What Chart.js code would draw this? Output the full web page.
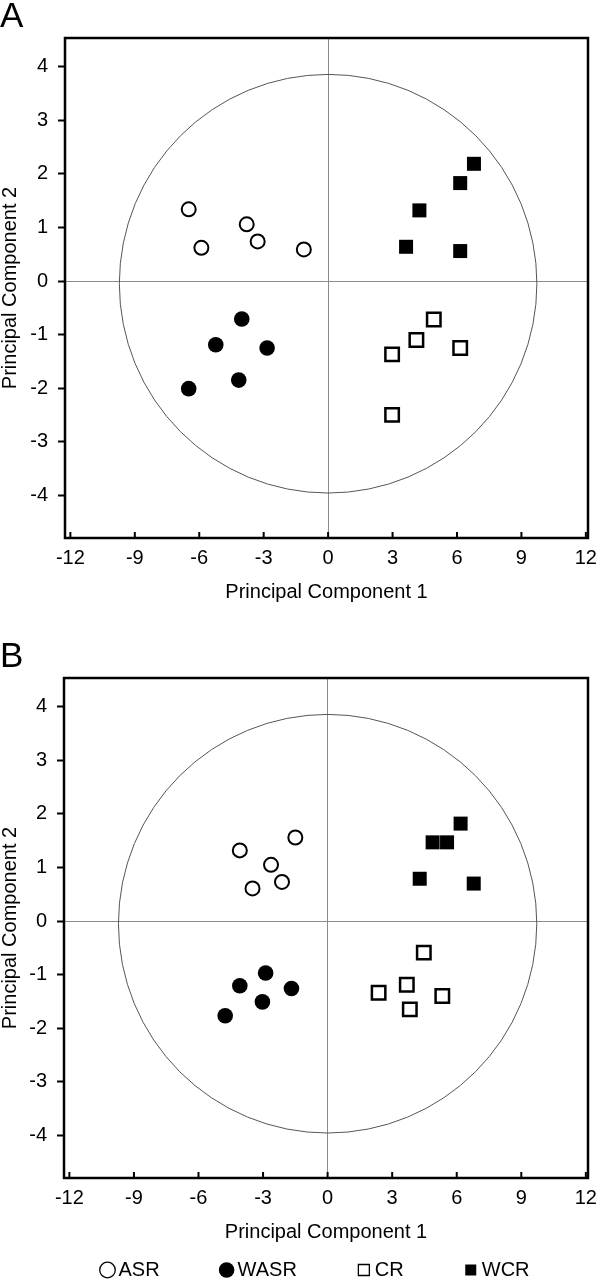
<!DOCTYPE html>
<html><head><meta charset="utf-8">
<script src="https://cdn.jsdelivr.net/npm/chart.js@4/dist/chart.umd.min.js"></script>
<style>
html,body{margin:0;padding:0;background:#fff;overflow:hidden;width:600px;height:1284px;}
canvas{position:absolute;left:0;}
#cA{top:0;} #cB{top:640px;}
</style></head><body>
<canvas id="cA" width="600" height="604"></canvas>
<canvas id="cB" width="600" height="700"></canvas>
<script>
// ---------- data ----------
const SERIES_NAMES = ['ASR', 'WASR', 'CR', 'WCR'];
const PANEL_LABELS = ['A', 'B'];
const X_TICKS = [-12, -9, -6, -3, 0, 3, 6, 9, 12];
const Y_TICKS = [-4, -3, -2, -1, 0, 1, 2, 3, 4];
const X_TITLE = 'Principal Component 1';
const Y_TITLE = 'Principal Component 2';

// Panel A
const A_ASR_X  = [-6.49, -5.90, -3.79, -3.28, -1.13];
const A_ASR_Y  = [ 1.34,  0.62,  1.06,  0.74,  0.59];
const A_WASR_X = [-4.02, -5.23, -2.84, -4.16, -6.49];
const A_WASR_Y = [-0.71, -1.19, -1.25, -1.85, -2.01];
const A_CR_X   = [ 4.92,  4.11,  2.98,  6.15,  2.98];
const A_CR_Y   = [-0.72, -1.10, -1.37, -1.25, -2.50];
const A_WCR_X  = [ 6.79,  6.15,  4.25,  3.63,  6.15];
const A_WCR_Y  = [ 2.19,  1.83,  1.32,  0.64,  0.56];

// Panel B
const B_ASR_X  = [-4.08, -1.50, -2.63, -2.12, -3.49];
const B_ASR_Y  = [ 1.32,  1.56,  1.05,  0.73,  0.61];
const B_WASR_X = [-2.88, -4.08, -1.68, -3.03, -4.76];
const B_WASR_Y = [-0.97, -1.21, -1.26, -1.51, -1.77];
const B_CR_X   = [ 4.47,  3.68,  2.37,  5.33,  3.82];
const B_CR_Y   = [-0.59, -1.19, -1.34, -1.40, -1.65];
const B_WCR_X  = [ 6.18,  4.88,  5.55,  4.28,  6.79];
const B_WCR_Y  = [ 1.82,  1.47,  1.47,  0.79,  0.70];

// reference ellipse (in data units)
const CIRCLE_CX = 0, CIRCLE_CY = -0.05, CIRCLE_RX = 9.72, CIRCLE_RY = 3.91;

// ---------- styling / layout ----------
const X_MIN = -12.25, X_MAX = 12.1, Y_MIN = -4.8, Y_MAX = 4.54;
const FONT = "'Liberation Sans', Arial, Helvetica, sans-serif";
const TICK_FS = 20, TITLE_FS = 20, PANEL_FS = 35;
const ZERO_COLOR = '#8c8c8c', CIRCLE_COLOR = '#555555';
const X_AXIS_H = 66;
const LEGEND_PAD = 66, LEGEND_DX = 23, LEGEND_DY = -50;

const pts = (xs, ys) => xs.map((v, i) => ({x: v, y: ys[i]}));

const STYLES = {
  ASR:  {pointStyle: 'circle', pointRadius: 7,   backgroundColor: '#ffffff', borderColor: '#000000', borderWidth: 2},
  WASR: {pointStyle: 'circle', pointRadius: 7.8, backgroundColor: '#000000', borderColor: '#000000', borderWidth: 0},
  CR:   {pointStyle: 'rect',   pointRadius: 9.5, backgroundColor: '#ffffff', borderColor: '#000000', borderWidth: 2.5},
  WCR:  {pointStyle: 'rect',   pointRadius: 9.9, backgroundColor: '#000000', borderColor: '#000000', borderWidth: 0}
};

function makeDatasets(series) {
  return SERIES_NAMES.map((name, i) => Object.assign({
    label: name,
    data: series[i],
    pointHoverRadius: STYLES[name].pointRadius
  }, STYLES[name]));
}

const pcaDecor = {
  id: 'pcaDecor',
  beforeDatasetsDraw(chart) {
    const {ctx, scales: {x, y}} = chart;
    const cx = x.getPixelForValue(CIRCLE_CX), cy = y.getPixelForValue(CIRCLE_CY);
    const rx = x.getPixelForValue(CIRCLE_CX + CIRCLE_RX) - cx;
    const ry = cy - y.getPixelForValue(CIRCLE_CY + CIRCLE_RY);
    ctx.save();
    ctx.beginPath();
    ctx.ellipse(cx, cy, rx, ry, 0, 0, Math.PI * 2);
    ctx.strokeStyle = CIRCLE_COLOR;
    ctx.lineWidth = 1;
    ctx.stroke();
    ctx.restore();
  },
  afterDraw(chart) {
    const {ctx, chartArea: a, scales: {x}} = chart;
    ctx.save();
    ctx.strokeStyle = '#000';
    // inward tick marks on bottom axis
    ctx.lineWidth = 2;
    x.ticks.forEach(t => {
      const px = x.getPixelForValue(t.value);
      ctx.beginPath();
      ctx.moveTo(px, a.bottom);
      ctx.lineTo(px, a.bottom - 6);
      ctx.stroke();
    });
    // frame
    ctx.lineWidth = 2.5;
    ctx.strokeRect(a.left, a.top, a.right - a.left, a.bottom - a.top);
    ctx.restore();
  }
};

const legendShift = {
  id: 'legendShift',
  afterUpdate(chart) {
    const lg = chart.legend;
    if (!lg || !chart.options.plugins.legend.display) return;
    lg.left += LEGEND_DX; lg.right += LEGEND_DX;
    lg.top += LEGEND_DY; lg.bottom += LEGEND_DY;
  }
};

function makeChart(id, panelLabel, series, showLegend) {
  return new Chart(document.getElementById(id), {
    type: 'scatter',
    data: {datasets: makeDatasets(series)},
    plugins: [pcaDecor, legendShift],
    options: {
      responsive: false,
      animation: false,
      events: [],
      layout: {padding: {top: 0, left: 0, right: 10, bottom: 0}},
      plugins: {
        tooltip: {enabled: false},
        title: {
          display: true, text: panelLabel, align: 'start', color: '#000',
          font: {size: PANEL_FS, family: FONT, weight: 'normal', lineHeight: 1},
          padding: {top: 0, bottom: 3}
        },
        legend: {
          display: showLegend,
          position: 'bottom',
          labels: {
            usePointStyle: true, boxWidth: 2, boxHeight: 11, padding: LEGEND_PAD,
            color: '#000', font: {size: TITLE_FS, family: FONT},
            generateLabels(chart) {
              return Chart.defaults.plugins.legend.labels.generateLabels(chart)
                .map(l => Object.assign(l, {lineWidth: l.lineWidth ? 1.3 : 0}));
            }
          }
        }
      },
      scales: {
        x: {
          type: 'linear', min: X_MIN, max: X_MAX,
          afterBuildTicks: s => { s.ticks = X_TICKS.map(v => ({value: v})); },
          afterFit: s => { s.height = X_AXIS_H; s.paddingLeft = 0; s.paddingRight = 0; },
          grid: {color: c => (c.tick && c.tick.value === 0) ? ZERO_COLOR : 'rgba(0,0,0,0)', lineWidth: 1, drawTicks: false},
          border: {display: false},
          ticks: {color: '#000', font: {size: TICK_FS, family: FONT}, padding: 8, maxRotation: 0, autoSkip: false},
          title: {display: true, text: X_TITLE, color: '#000', font: {size: TITLE_FS, family: FONT}, padding: 0}
        },
        y: {
          type: 'linear', min: Y_MIN, max: Y_MAX,
          afterBuildTicks: s => { s.ticks = Y_TICKS.map(v => ({value: v})); },
          afterFit: s => { s.width = (id === 'cA' ? 65 : 64); s.paddingTop = 0; s.paddingBottom = 0; },
          grid: {color: c => (c.tick && c.tick.value === 0) ? ZERO_COLOR : 'rgba(0,0,0,0)', lineWidth: 1,
                 drawTicks: true, tickLength: 7, tickWidth: 2, tickColor: '#000'},
          border: {display: false},
          ticks: {color: '#000', font: {size: TICK_FS, family: FONT}, padding: 10, autoSkip: false},
          title: {display: true, text: Y_TITLE, color: '#000', font: {size: TITLE_FS, family: FONT}, padding: {top: -2, bottom: 0}}
        }
      }
    }
  });
}

makeChart('cA', PANEL_LABELS[0], [pts(A_ASR_X, A_ASR_Y), pts(A_WASR_X, A_WASR_Y), pts(A_CR_X, A_CR_Y), pts(A_WCR_X, A_WCR_Y)], false);
makeChart('cB', PANEL_LABELS[1], [pts(B_ASR_X, B_ASR_Y), pts(B_WASR_X, B_WASR_Y), pts(B_CR_X, B_CR_Y), pts(B_WCR_X, B_WCR_Y)], true);
</script>
</body></html>
